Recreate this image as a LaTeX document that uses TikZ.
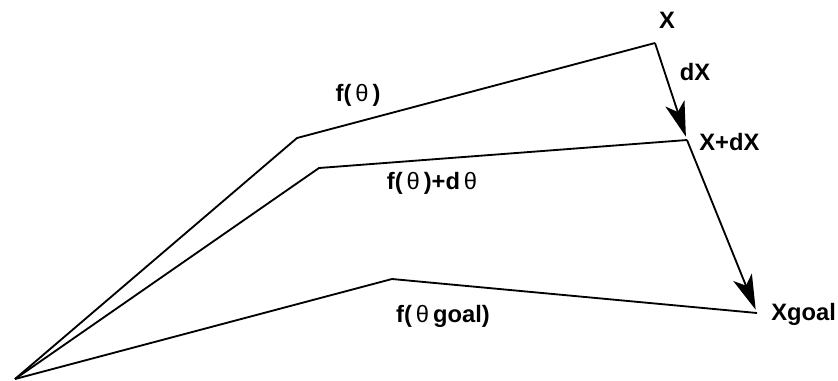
\documentclass[tikz,border=0pt]{standalone}
\usepackage{fontspec}
\setmainfont{Liberation Sans}
\usetikzlibrary{arrows.meta}

\begin{document}
\begin{tikzpicture}[x=0.02cm, y=-0.02cm,
  ln/.style={black, line width=1.05pt, line join=round},
  arr/.style={-{Stealth[length=0.7cm, width=0.4cm, inset=0.18cm]}, black, line width=1.05pt, shorten >=2pt},
  lbl/.style={font=\fontsize{13.5}{16}\selectfont\bfseries, inner sep=0pt}]
\useasboundingbox (0,0) rectangle (838,380);
% end points and bends
\coordinate (o) at (15,379);
\coordinate (b1) at (297,138);
\coordinate (x) at (655,43);
\coordinate (b2) at (319,168);
\coordinate (xd) at (687,140);
\coordinate (b3) at (392,279);
\coordinate (xg) at (757,313);
\draw[ln] (o) -- (b1) -- (x);
\draw[ln] (o) -- (b2) -- (xd);
\draw[ln] (o) -- (b3) -- (xg);
\draw[arr] (x) -- (xd);
\draw[arr] (xd) -- (xg);
% labels
\node[lbl] (lx) at (667,20) {X};
\node[lbl] (ldx) at (695,72) {dX};
\node[lbl, anchor=west] (lxd) at (699,142) {X+dX};
\node[lbl, anchor=west] (lxg) at (771,314) {Xgoal};
\node[lbl] (lf) at (358,95) {f(\,\textmd{θ}\,)};
\node[lbl] (lfd) at (432,183) {f(\,\textmd{θ}\,)+d\,\textmd{θ}};
\node[lbl] (lfg) at (443,316) {f(\,\textmd{θ}\,goal)};
\end{tikzpicture}
\end{document}
